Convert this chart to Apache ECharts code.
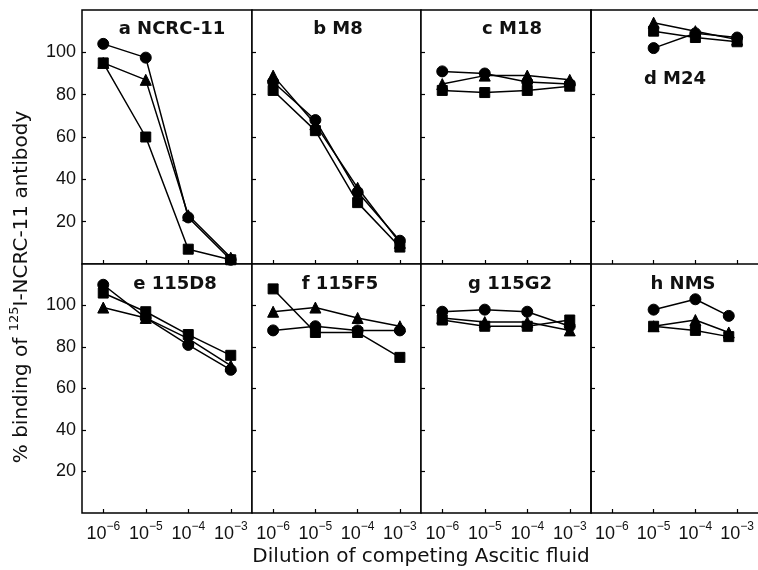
<!DOCTYPE html>
<html>
<head>
<meta charset="utf-8">
<script src="https://cdn.jsdelivr.net/npm/echarts@6/dist/echarts.min.js"></script>
<style>
html,body{margin:0;padding:0;background:#fff;}
#chart{width:758px;height:570px;}
</style>
</head>
<body>
<div id="chart"></div>
<script>
// ---- data ----
const panelTitles = ['a NCRC-11', 'b M8', 'c M18', 'd M24', 'e 115D8', 'f 115F5', 'g 115G2', 'h NMS'];
const xTicks = [-6, -5, -4, -3];              // log10 dilution
const xFull = [-6, -5, -4, -3];
const xD = [-5, -4, -3];
const xH = [-5, -4, -3.2];
const panelX = [xFull, xFull, xFull, xD, xFull, xFull, xFull, xH];
const yTicks = [20, 40, 60, 80, 100];

// % binding, per panel (a..h)
const circleVals = [
  [104, 97.5, 22, 2],
  [86, 68, 34, 11],
  [91, 90, 86, 85],
  [102, 109, 107],
  [110, 94, 81, 69],
  [88, 90, 88, 88],
  [97, 98, 97, 90],
  [98, 103, 95]
];
const triangleVals = [
  [95, 87, 23, 3],
  [89, 66, 36, 10],
  [85, 89, 89, 87],
  [114, 110, 106],
  [99, 94, 84, 71],
  [97, 99, 94, 90],
  [94, 92, 92, 88],
  [90, 93, 87]
];
const squareVals = [
  [95, 60, 7, 2],
  [82, 63, 29, 8],
  [82, 81, 82, 84],
  [110, 107, 105],
  [106, 97, 86, 76],
  [108, 87, 87, 75],
  [93, 90, 90, 93],
  [90, 88, 85]
];

// ---- layout ----
const colLeft = [82, 252, 421, 591];
const colW = [170, 169, 170, 170];
const rowTop = [10, 264];
const rowH = [254, 249];
const titlePos = [[167, 15], [333, 15], [507, 15], [670, 65], [170, 270], [335, 270], [505, 270], [678, 270]];

const grids = [], xAxes = [], yAxes = [], series = [], titles = [];
const FONT = 'Liberation Sans, Arial, Helvetica, sans-serif';
const FONT2 = 'DejaVu Sans, Liberation Sans, sans-serif';
const LINE = { color: '#000', width: 1.5 };

for (let p = 0; p < 8; p++) {
  const r = Math.floor(p / 4), c = p % 4;
  const lastCol = c === 3;   // right edge of these panels runs off the page: no right border
  grids.push({
    left: colLeft[c], top: rowTop[r], width: colW[c], height: rowH[r],
    show: !lastCol, borderColor: '#000', borderWidth: 1.5, backgroundColor: '#fff'
  });
  xAxes.push({
    type: 'value', gridIndex: p, min: -6.5, max: -2.5,
    axisLine: { show: lastCol, onZero: false, lineStyle: LINE },
    splitLine: { show: false },
    axisTick: { show: true, inside: true, length: 4, customValues: xTicks, lineStyle: { color: '#000', width: 1.2 } },
    axisLabel: {
      show: r === 1, customValues: xTicks, margin: 8, color: '#111', fontFamily: FONT,
      formatter: v => '{b|10}{s|\u2212' + (-v) + '}',
      rich: {
        b: { fontSize: 18, fontFamily: FONT, color: '#111', lineHeight: 22, verticalAlign: 'bottom' },
        s: { fontSize: 12, fontFamily: FONT, color: '#111', lineHeight: 12, verticalAlign: 'top' }
      }
    }
  });
  yAxes.push({
    type: 'value', gridIndex: p, min: 0, max: 120,
    axisLine: { show: lastCol, onZero: false, lineStyle: LINE },
    splitLine: { show: false },
    axisTick: { show: true, inside: true, length: 4, customValues: yTicks, lineStyle: { color: '#000', width: 1.2 } },
    axisLabel: { show: c === 0, customValues: yTicks, margin: 6, color: '#111', fontSize: 18, fontFamily: FONT }
  });
  titles.push({
    text: panelTitles[p], left: titlePos[p][0], top: titlePos[p][1], textAlign: 'center',
    textStyle: { fontSize: 18, fontWeight: 'bold', color: '#111', fontFamily: FONT2 }
  });
  const sets = [
    [circleVals[p], 'circle', 11],
    [triangleVals[p], 'triangle', 11],
    [squareVals[p], 'rect', 10]
  ];
  sets.forEach(([vals, sym, size]) => {
    series.push({
      type: 'line', xAxisIndex: p, yAxisIndex: p,
      data: vals.map((v, i) => [panelX[p][i], v]),
      symbol: sym, symbolSize: size, showSymbol: true,
      lineStyle: { color: '#000', width: 1.5 },
      itemStyle: { color: '#000', borderColor: '#000' },
      animation: false, silent: true
    });
  });
}
// top edge line for panel d (top-right panel)
xAxes.push({
  type: 'value', gridIndex: 3, position: 'top', min: -6.5, max: -2.5,
  axisLine: { show: true, onZero: false, lineStyle: LINE },
  axisTick: { show: false }, axisLabel: { show: false }, splitLine: { show: false }
});

const chart = echarts.init(document.getElementById('chart'), null, { renderer: 'canvas' });
chart.setOption({
  backgroundColor: '#fff',
  animation: false,
  title: titles,
  grid: grids,
  xAxis: xAxes,
  yAxis: yAxes,
  series: series,
  graphic: [
    {
      type: 'text', x: 20, y: 287, rotation: Math.PI / 2,
      style: {
        text: '{t|% binding of }{s|125}{t|I-NCRC-11 antibody}',
        align: 'center', verticalAlign: 'middle',
        rich: {
          t: { fontSize: 20, fontFamily: FONT2, fill: '#111', lineHeight: 24, verticalAlign: 'bottom' },
          s: { fontSize: 13, fontFamily: FONT2, fill: '#111', lineHeight: 13, verticalAlign: 'top' }
        }
      }
    },
    {
      type: 'text', x: 421, y: 557,
      style: {
        text: 'Dilution of competing Ascitic fluid',
        align: 'center', verticalAlign: 'middle',
        fontSize: 20, fontFamily: FONT2, fill: '#111'
      }
    }
  ]
});
</script>
</body>
</html>
